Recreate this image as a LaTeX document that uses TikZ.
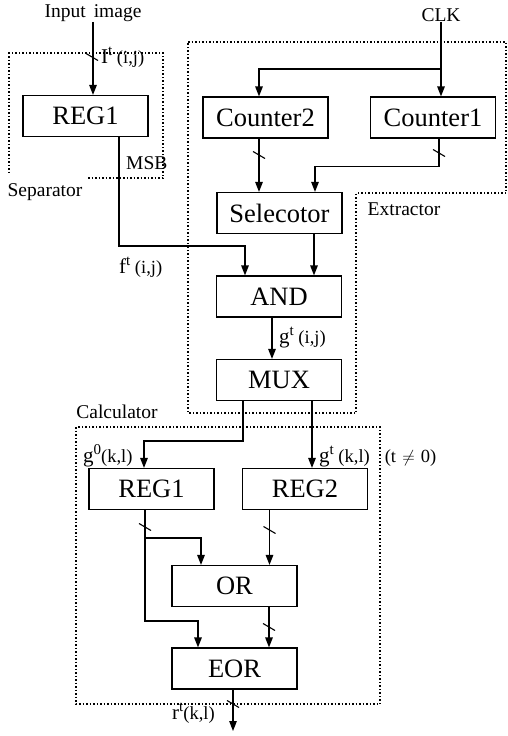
\documentclass[tikz,border=0pt]{standalone}
\usepackage{fontspec}
\setmainfont{Liberation Serif}
\usetikzlibrary{arrows.meta}
\newcommand{\boxfont}{\fontsize{26.5}{28}\selectfont}
\newcommand{\labfont}{\fontsize{19.5}{21}\selectfont}
\newcommand{\lab}[3]{{\fontsize{21}{23}\selectfont #1}\raisebox{8pt}{\fontsize{15}{16}\selectfont #2}{\fontsize{18.5}{19}\selectfont #3}}
\begin{document}
\begin{tikzpicture}[x=1pt,y=-1pt,
  blk/.style={draw,line width=1.2pt,minimum width=125pt,minimum height=41pt,inner sep=0pt,font=\boxfont},
  arr/.style={line width=1.3pt,-{Triangle[length=10pt,width=7.5pt]}},
  dotbox/.style={line width=1.1pt,dash pattern=on 1.5pt off 2pt},
  txt/.style={inner sep=0pt,font=\labfont}]
\useasboundingbox (0,0) rectangle (508,736);
% dotted group outlines
\draw[dotbox] (88,178) -- (163,178) -- (163,53) -- (9,53) -- (9,175);
\draw[dotbox] (188,42) -- (506,42) -- (506,193) -- (356,193) -- (356,413) -- (188,413) -- cycle;
\draw[dotbox] (76,427) rectangle (380,704);
% blocks
\node[blk] (sreg1) at (85.5,116) {REG1};
\node[blk] (cnt2) at (265.5,117.5) {Counter2};
\node[blk] (cnt1) at (433,117.5) {Counter1};
\node[blk] (sel) at (279.5,213) {Selecotor};
\node[blk] (and) at (279,296.5) {AND};
\node[blk] (mux) at (279,380) {MUX};
\node[blk] (creg1) at (151.5,489) {REG1};
\node[blk] (creg2) at (305,489) {REG2};
\node[blk] (or) at (234.5,586) {OR};
\node[blk] (eor) at (234.5,668.5) {EOR};
% texts
\node[txt] (inimg) at (93,13) {Input\ \,image};
\node[txt] (clk) at (441,15) {CLK};
\node[txt] (sepl) at (45,192) {Separator};
\node[txt] (extl) at (404,209) {Extractor};
\node[txt] (call) at (117,412) {Calculator};
\node[txt,anchor=west] (msbl) at (126,163) {MSB};
\node[txt,anchor=west] (itl) at (101,57) {\lab{I}{t}{\ (i,j)}};
\node[txt,anchor=west] (ftl) at (119,267) {\lab{f}{t}{\ (i,j)}};
\node[txt,anchor=west] (gtl) at (279,338) {\lab{g}{t}{\ (i,j)}};
\node[txt,anchor=west] (g0l) at (83,456) {\lab{g}{0}{(k,l)}};
\node[txt,anchor=west] (gkl) at (319,457) {\lab{g}{t}{\ (k,l)}\hspace{15pt}{\fontsize{18.5}{19}\selectfont (t\,\,$\neq$\,\,0)}};
\node[txt,anchor=west] (rtl) at (172,713) {\lab{r}{t}{(k,l)}};
% coordinates
\coordinate (clkj) at (441,69);
\coordinate (fj) at (245,246);
\coordinate (gj) at (144,441);
\coordinate (r1a) at (145,538);
\coordinate (r1b) at (145,621);
\coordinate (rout) at (233,731);
% connectors
\draw[arr] (inimg.south) -- (inimg.south |- sreg1.north);
\draw[arr] (clk.south) -- (clk.south |- cnt1.north);
\draw[arr] (clkj) -| ([xshift=-6.5]cnt2.north);
\draw[arr] ([xshift=-6.5]cnt2.south) -- ([xshift=-6.5]cnt2.south |- sel.north);
\draw[arr] ([xshift=6]cnt1.south) -- ++(0,28) -| ([xshift=35.5]sel.north);
\draw[arr] ([xshift=34.5]sel.south) -- ([xshift=34.5]sel.south |- and.north);
\draw[arr] ([xshift=33.5]sreg1.south) |- (fj) -- (fj |- and.north);
\draw[arr] ([xshift=-7]and.south) -- ([xshift=-7]and.south |- mux.north);
\draw[arr] ([xshift=-36]mux.south) |- (gj) -- (gj |- creg1.north);
\draw[arr] ([xshift=33]mux.south) -- ([xshift=33]mux.south |- creg2.north);
\draw[arr] ([xshift=-6.5]creg1.south) -- (r1b) -| ([xshift=-36.5]eor.north);
\draw[arr] (r1a) -| ([xshift=-33.5]or.north);
\draw[arr] ([xshift=-35.5]creg2.south) -- ([xshift=-35.5]creg2.south |- or.north);
\draw[arr] ([xshift=34.5]or.south) -- ([xshift=34.5]or.south |- eor.north);
\draw[arr] ([xshift=-1.5]eor.south) -- (rout);
% bus ticks
\foreach \tx/\ty in {92/57, 259/155, 439/153, 145/527, 269.5/530, 269/627, 233/704}
  \draw[line width=1.1pt] (\tx-6,\ty-3.5) -- (\tx+6,\ty+3.5);
\end{tikzpicture}
\end{document}
